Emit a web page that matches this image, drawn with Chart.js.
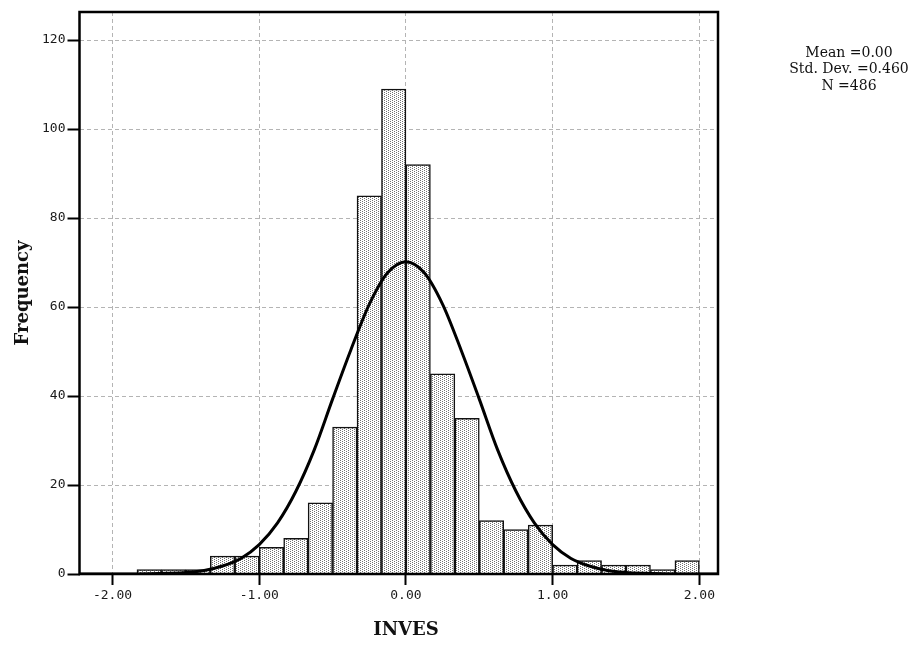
<!DOCTYPE html>
<html>
<head>
<meta charset="utf-8">
<script src="https://cdn.jsdelivr.net/npm/chart.js@4/dist/chart.umd.min.js"></script>
<style>
  html, body { margin: 0; padding: 0; background: #fff; }
  canvas { display: block; }
</style>
</head>
<body>
<canvas id="hist" width="912" height="646"></canvas>
<script>
// Histogram of INVES, bins of width 1/6 (bin centres)
const binCenters = [-1.75, -1.583333, -1.416667, -1.25, -1.083333, -0.916667, -0.75, -0.583333,
                    -0.416667, -0.25, -0.083333, 0.083333, 0.25, 0.416667, 0.583333, 0.75,
                    0.916667, 1.083333, 1.25, 1.416667, 1.583333, 1.75, 1.916667];
const frequencies = [1, 1, 1, 4, 4, 6, 8, 16, 33, 85, 109, 92, 45, 35, 12, 10, 11, 2, 3, 2, 2, 1, 3];

// Normal curve overlay (expected frequency per bin)
const curveX = [-2.25, -2.125, -2.0, -1.875, -1.75, -1.625, -1.5, -1.375, -1.25, -1.125,
                -1.0, -0.875, -0.75, -0.625, -0.5, -0.375, -0.25, -0.125, 0,
                0.125, 0.25, 0.375, 0.5, 0.625, 0.75, 0.875, 1.0, 1.125, 1.25,
                1.375, 1.5, 1.625, 1.75, 1.875, 2.0, 2.125, 2.25];
const curveY = [0, 0, 0, 0.02, 0.05, 0.15, 0.35, 0.8, 1.8, 3.5,
                6.6, 11.5, 18.6, 27.9, 39.3, 50.4, 60.6, 67.7, 70.2,
                67.7, 60.6, 50.4, 39.3, 27.9, 18.6, 11.5, 6.6, 3.5, 1.8,
                0.8, 0.35, 0.15, 0.05, 0.02, 0, 0, 0];

const xTicks = [-2, -1, 0, 1, 2];
const yTicks = [0, 20, 40, 60, 80, 100, 120];
const statsLines = ['Mean =0.00', 'Std. Dev. =0.460', 'N =486'];
const xTitle = 'INVES';
const yTitle = 'Frequency';

// stippled fill for the bars
function makeStipple() {
  const c = document.createElement('canvas');
  c.width = 4; c.height = 2;
  const g = c.getContext('2d');
  g.fillStyle = '#ffffff';
  g.fillRect(0, 0, 4, 2);
  g.fillStyle = '#727272';
  g.fillRect(0, 0, 1, 1);
  g.fillRect(2, 1, 1, 1);
  return g.createPattern(c, 'repeat');
}

const ctx = document.getElementById('hist').getContext('2d');
const stipple = makeStipple();

const frameAndText = {
  id: 'frameAndText',
  afterDatasetsDraw(chart) {
    const { ctx, chartArea: a } = chart;
    ctx.save();
    ctx.strokeStyle = '#000';
    ctx.lineWidth = 2.5;
    ctx.strokeRect(a.left, a.top, a.right - a.left, a.bottom - a.top);
    ctx.restore();
  },
  afterDraw(chart) {
    const { ctx } = chart;
    ctx.save();
    ctx.fillStyle = '#111';
    ctx.textAlign = 'center';
    ctx.textBaseline = 'middle';
    ctx.font = 'bold 18px "DejaVu Serif"';
    ctx.fillText(xTitle, 406, 630);
    ctx.save();
    ctx.translate(23, 293);
    ctx.rotate(-Math.PI / 2);
    ctx.fillText(yTitle, 0, 0);
    ctx.restore();
    ctx.font = '14px "DejaVu Serif"';
    const ys = [53, 69.5, 86];
    statsLines.forEach((t, i) => ctx.fillText(t, 849, ys[i]));
    ctx.restore();
  }
};

new Chart(ctx, {
  data: {
    datasets: [
      {
        type: 'line',
        label: 'Normal',
        data: curveX.map((x, i) => ({ x, y: curveY[i] })),
        borderColor: '#000',
        borderWidth: 3,
        pointRadius: 0,
        fill: false,
        cubicInterpolationMode: 'monotone',
        order: 0
      },
      {
        type: 'bar',
        label: 'Frequency',
        data: binCenters.map((x, i) => ({ x, y: frequencies[i] })),
        backgroundColor: stipple,
        borderColor: '#111',
        borderWidth: 1.5,
        barPercentage: 1,
        categoryPercentage: 1,
        order: 1
      }
    ]
  },
  options: {
    responsive: false,
    animation: false,
    devicePixelRatio: 1,
    layout: { padding: { top: 12, right: 194, left: 0, bottom: 0 } },
    plugins: { legend: { display: false }, tooltip: { enabled: false } },
    scales: {
      x: {
        type: 'linear',
        min: -2.225,
        max: 2.127,
        offset: false,
        afterBuildTicks: s => { s.ticks = xTicks.map(v => ({ value: v })); },
        afterFit: s => { s.height = 72; },
        ticks: {
          callback: v => v.toFixed(2),
          font: { family: '"DejaVu Sans Mono"', size: 13 },
          color: '#1a1a1a',
          padding: 3,
          maxRotation: 0
        },
        grid: {
          offset: false,
          color: '#b4b4b4',
          lineWidth: 1,
          tickLength: 11,
          tickColor: '#000',
          tickWidth: 2
        },
        border: { display: false, dash: [4, 3] },
        title: { display: false }
      },
      y: {
        type: 'linear',
        min: 0,
        max: 126.3,
        afterBuildTicks: s => { s.ticks = yTicks.map(v => ({ value: v })); },
        afterFit: s => { s.width = 79.5; },
        ticks: {
          font: { family: '"DejaVu Sans Mono"', size: 13 },
          color: '#1a1a1a',
          padding: 2
        },
        grid: {
          color: '#b4b4b4',
          lineWidth: 1,
          tickLength: 12,
          tickColor: '#000',
          tickWidth: 2
        },
        border: { display: false, dash: [4, 3] },
        title: { display: false }
      }
    }
  },
  plugins: [frameAndText]
});
</script>
</body>
</html>
